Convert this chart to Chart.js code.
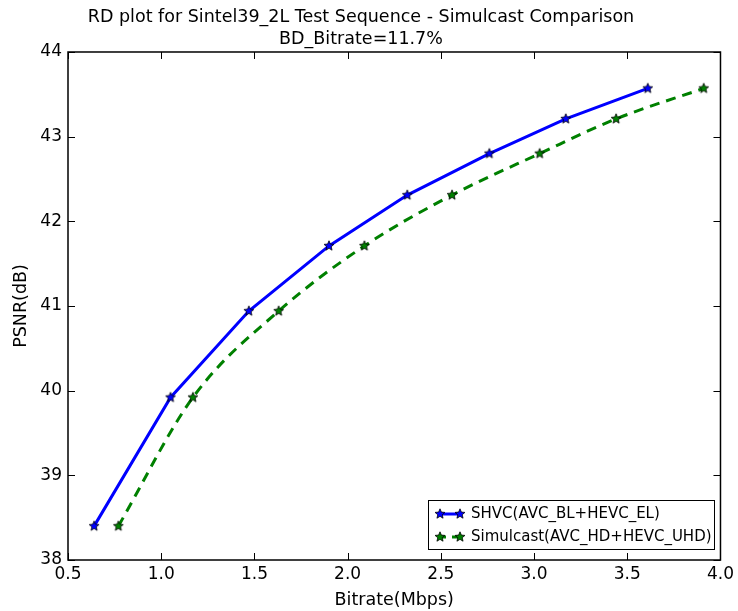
<!DOCTYPE html>
<html>
<head>
<meta charset="utf-8">
<script src="https://cdn.jsdelivr.net/npm/chart.js@4/dist/chart.umd.min.js"></script>
<style>
html,body{margin:0;padding:0;background:#fff;}
#wrap{width:738px;height:611px;position:relative;}
</style>
</head>
<body>
<div id="wrap"><canvas id="c" width="738" height="611"></canvas></div>
<script>
// ---- data ----
const titleLines = ["RD plot for Sintel39_2L Test Sequence - Simulcast Comparison", "BD_Bitrate=11.7%"];
const xTitle = "Bitrate(Mbps)";
const yTitle = "PSNR(dB)";
const seriesNames = ["SHVC(AVC_BL+HEVC_EL)", "Simulcast(AVC_HD+HEVC_UHD)"];
const shvcBitrate = [0.64, 1.05, 1.47, 1.90, 2.32, 2.76, 3.17, 3.61];
const shvcPsnr    = [38.40, 39.92, 40.94, 41.71, 42.31, 42.80, 43.21, 43.57];
const simBitrate  = [0.77, 1.17, 1.63, 2.09, 2.56, 3.03, 3.44, 3.91];
const simPsnr     = [38.40, 39.92, 40.94, 41.71, 42.31, 42.80, 43.21, 43.57];
const xTicks = [0.5, 1.0, 1.5, 2.0, 2.5, 3.0, 3.5, 4.0];
const yTicks = [38, 39, 40, 41, 42, 43, 44];

const FONT = "'DejaVu Sans', sans-serif";
const BLUE = "#0000ff", GREEN = "#008000";

function starImg(fill, r) {
  const s = Math.ceil(r * 2 + 3);
  const cv = document.createElement('canvas');
  cv.width = s; cv.height = s;
  const g = cv.getContext('2d');
  const cx = s / 2, cy = s / 2, ri = r * 0.45;
  g.beginPath();
  for (let i = 0; i < 10; i++) {
    const rr = i % 2 === 0 ? r : ri;
    const a = -Math.PI / 2 + i * Math.PI / 5;
    const px = cx + rr * Math.cos(a), py = cy + rr * Math.sin(a);
    if (i === 0) g.moveTo(px, py); else g.lineTo(px, py);
  }
  g.closePath();
  g.fillStyle = fill; g.fill();
  g.lineWidth = 0.8; g.strokeStyle = "#000"; g.stroke();
  return cv;
}
const starBlue = starImg(BLUE, 5.2);
const starGreen = starImg(GREEN, 5.2);

const toPts = (xs, ys) => xs.map((x, i) => ({x: x, y: ys[i]}));

const frame = {
  id: 'frame',
  afterDraw(chart) {
    const {ctx, chartArea: a, scales} = chart;
    ctx.save();
    ctx.strokeStyle = '#000';
    ctx.lineWidth = 1;
    const L = 7;
    ctx.beginPath();
    xTicks.forEach(v => {
      const x = Math.round(scales.x.getPixelForValue(v)) + 0.5;
      ctx.moveTo(x, a.bottom); ctx.lineTo(x, a.bottom - L);
      ctx.moveTo(x, a.top); ctx.lineTo(x, a.top + L);
    });
    yTicks.forEach(v => {
      const y = Math.round(scales.y.getPixelForValue(v)) + 0.5;
      ctx.moveTo(a.left, y); ctx.lineTo(a.left + L, y);
      ctx.moveTo(a.right, y); ctx.lineTo(a.right - L, y);
    });
    ctx.stroke();
    ctx.lineWidth = 1.5;
    ctx.strokeRect(a.left, a.top, a.right - a.left, a.bottom - a.top);

    // legend
    const bx = 428, by = 500, bw = 286, bh = 49;
    ctx.fillStyle = '#fff';
    ctx.fillRect(bx, by, bw, bh);
    ctx.lineWidth = 1;
    ctx.strokeStyle = '#000';
    ctx.strokeRect(bx + 0.5, by + 0.5, bw, bh);
    ctx.font = "15px " + FONT;
    ctx.textBaseline = 'middle';
    ctx.textAlign = 'left';
    const rows = [
      {name: seriesNames[0], color: BLUE, dash: [], img: starBlue, y: by + 14},
      {name: seriesNames[1], color: GREEN, dash: [8, 6], img: starGreen, y: by + 37}
    ];
    rows.forEach(r => {
      ctx.strokeStyle = r.color;
      ctx.lineWidth = 3;
      ctx.setLineDash(r.dash);
      ctx.beginPath();
      ctx.moveTo(bx + 10, r.y); ctx.lineTo(bx + 32, r.y);
      ctx.stroke();
      ctx.setLineDash([]);
      [bx + 12, bx + 32].forEach(px => ctx.drawImage(r.img, px - r.img.width / 2, r.y - r.img.height / 2));
      ctx.fillStyle = '#000';
      ctx.fillText(r.name, bx + 43, r.y);
    });
    ctx.restore();
  }
};

new Chart(document.getElementById('c'), {
  type: 'scatter',
  data: {
    datasets: [
      {
        label: seriesNames[0],
        data: toPts(shvcBitrate, shvcPsnr),
        showLine: true,
        borderColor: BLUE,
        backgroundColor: BLUE,
        borderWidth: 3,
        tension: 0,
        pointStyle: starBlue,
        pointRadius: 6,
        pointHoverRadius: 6
      },
      {
        label: seriesNames[1],
        data: toPts(simBitrate, simPsnr),
        showLine: true,
        borderColor: GREEN,
        backgroundColor: GREEN,
        borderWidth: 3,
        borderDash: [10, 7],
        cubicInterpolationMode: 'monotone',
        pointStyle: starGreen,
        pointRadius: 6,
        pointHoverRadius: 6
      }
    ]
  },
  plugins: [frame],
  options: {
    responsive: false,
    animation: false,
    events: [],
    layout: {padding: {left: 0, right: 16, top: 0, bottom: 0}},
    plugins: {
      legend: {display: false},
      tooltip: {enabled: false},
      title: {
        display: true,
        text: titleLines,
        color: '#000',
        font: {family: FONT, size: 17.5, weight: 'normal', lineHeight: 1.257},
        padding: {top: 6, bottom: 2}
      }
    },
    scales: {
      x: {
        type: 'linear',
        min: 0.5, max: 4.0,
        afterBuildTicks: s => { s.ticks = xTicks.map(v => ({value: v})); },
        afterFit: s => { s.height = 51; },
        grid: {display: false, drawTicks: false},
        border: {display: false},
        ticks: {
          color: '#000', padding: 4,
          font: {family: FONT, size: 17},
          callback: v => Number(v).toFixed(1)
        },
        title: {display: true, text: xTitle, color: '#000', font: {family: FONT, size: 17.5}, padding: {top: 0, bottom: 0}}
      },
      y: {
        type: 'linear',
        min: 38, max: 44,
        afterBuildTicks: s => { s.ticks = yTicks.map(v => ({value: v})); },
        afterFit: s => { s.width = 68; },
        grid: {display: false, drawTicks: false},
        border: {display: false},
        ticks: {
          color: '#000', padding: 6,
          font: {family: FONT, size: 17},
          callback: v => String(v)
        },
        title: {display: true, text: yTitle, color: '#000', font: {family: FONT, size: 17.5}, padding: {top: 11, bottom: 4}}
      }
    }
  }
});
</script>
</body>
</html>
